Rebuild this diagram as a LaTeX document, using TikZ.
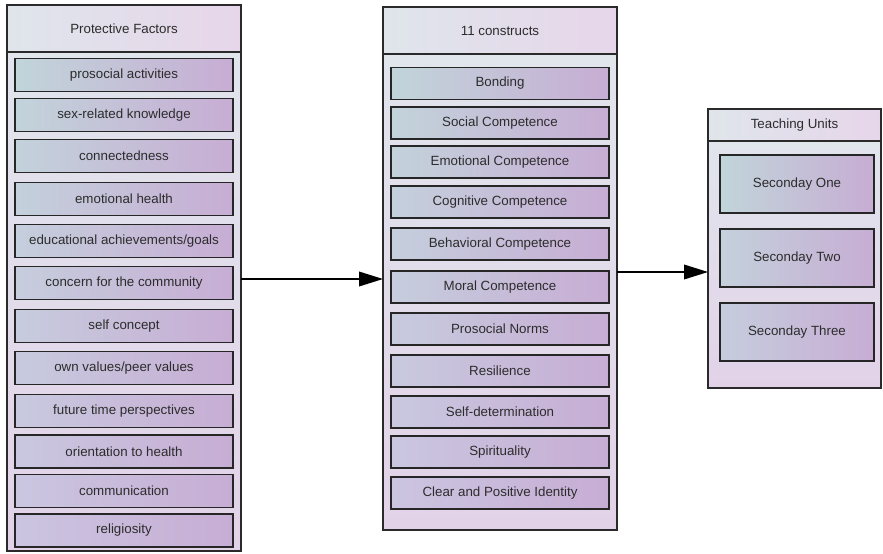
\documentclass[tikz,border=0pt]{standalone}
\usepackage{fontspec}
\setmainfont{Liberation Sans}
\usetikzlibrary{arrows.meta,calc}
\definecolor{hdL}{HTML}{DFE5EB}
\definecolor{hdR}{HTML}{E7D6EA}
\definecolor{bdT}{HTML}{E1E5EC}
\definecolor{bdB}{HTML}{E2D2E8}
\definecolor{ibTL}{HTML}{C1D5DA}
\definecolor{ibBL}{HTML}{CBC5E1}
\definecolor{ibR}{HTML}{C7ADD4}
\definecolor{txt}{HTML}{2C2C2C}
\definecolor{edge}{HTML}{2A2A2A}
\begin{document}
\begin{tikzpicture}[x=0.75pt,y=-0.75pt,
 panel/.style={draw=edge, line width=1.2pt, inner sep=0pt, outer sep=0pt},
 header/.style={panel, right color=hdR, left color=hdL, font=\fontsize{10}{12}\selectfont, text=txt},
 pbody/.style={panel, bottom color=bdB, top color=bdT},
 item/.style={draw=black!85, line width=1.3pt, inner sep=0pt, outer sep=0pt, right color=ibR, font=\fontsize{10}{12}\selectfont, text=txt},
 arr/.style={draw=black, line width=1.1pt, -{Triangle[length=18pt,width=11pt]}}]
\fill[white] (0,0) rectangle (883,554);
\useasboundingbox (0,0) rectangle (883,554);

% left panel
\node[pbody, minimum width=175.5pt, minimum height=374.25pt] (lbody) at (124,301.5) {};
\node[header, minimum width=175.5pt, minimum height=35.25pt] (lhead) at (124,28.5) {Protective Factors};
\foreach \n/\y/\t in {1/75/{prosocial activities}, 2/115/{sex-related knowledge}, 3/156/{connectedness}, 4/199/{emotional health}, 5/241/{educational achievements/goals}, 6/283/{concern for the community}, 7/326/{self concept}, 8/368/{own values/peer values}, 9/411/{future time perspectives}, 10/451.5/{orientation to health}, 11/491/{communication}, 12/530.5/{religiosity}}{
  \pgfmathtruncatemacro\p{100-(\y-75)/4.55}
  \node[item, left color=ibTL!\p!ibBL, minimum width=163.5pt, minimum height=24.75pt] (l\n) at (124,\y) {\t};
}

% middle panel
\node[pbody, minimum width=175.5pt, minimum height=357pt] (mbody) at (500,292) {};
\node[header, minimum width=175.5pt, minimum height=35.25pt] (mhead) at (500,30.5) {11 constructs};
\foreach \n/\y/\t in {1/83.5/{Bonding}, 2/123/{Social Competence}, 3/162/{Emotional Competence}, 4/202/{Cognitive Competence}, 5/244/{Behavioral Competence}, 6/287/{Moral Competence}, 7/329/{Prosocial Norms}, 8/371/{Resilience}, 9/412/{Self-determination}, 10/452/{Spirituality}, 11/493/{Clear and Positive Identity}}{
  \pgfmathtruncatemacro\p{100-(\y-83)/4.1}
  \node[item, left color=ibTL!\p!ibBL, minimum width=163.5pt, minimum height=24pt] (m\n) at (500,\y) {\t};
}

% right panel
\node[pbody, minimum width=129.75pt, minimum height=185.25pt] (rbody) at (794.5,264.5) {};
\node[header, minimum width=129.75pt, minimum height=24pt] (rhead) at (794.5,125) {Teaching Units};
\foreach \n/\y/\t in {1/184/{Seconday One}, 2/258/{Seconday Two}, 3/332/{Seconday Three}}{
  \pgfmathtruncatemacro\p{100-(\y-184)/3}
  \node[item, left color=ibTL!\p!ibBL, minimum width=115.5pt, minimum height=43.5pt] (r\n) at (797,\y) {\t};
}

% connectors
\coordinate (y1) at (0,279);
\coordinate (y2) at (0,272);
\draw[arr] (lbody.east |- y1) -- (mbody.west |- y1);
\draw[arr] (mbody.east |- y2) -- (rbody.west |- y2);
\end{tikzpicture}
\end{document}
